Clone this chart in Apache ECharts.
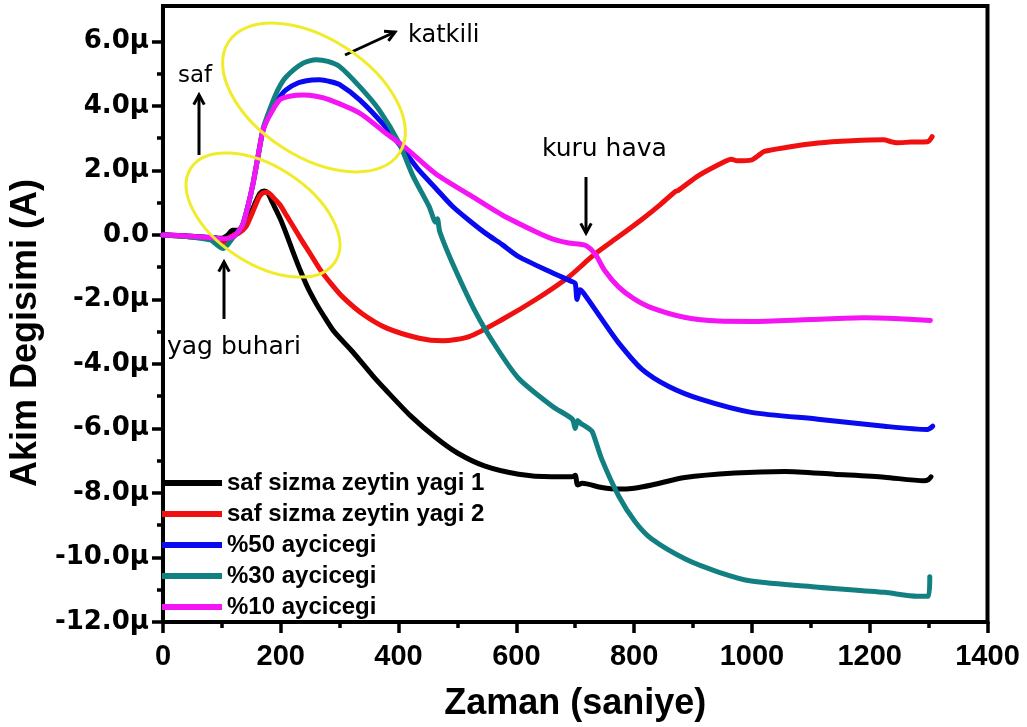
<!DOCTYPE html>
<html>
<head>
<meta charset="utf-8">
<script src="https://cdn.jsdelivr.net/npm/echarts@6/dist/echarts.min.js"></script>
<style>
  html, body { margin: 0; padding: 0; background: #fff; }
  #main { width: 1027px; height: 727px; }
</style>
</head>
<body>
<div id="main"></div>
<script>
// Current change (µA) versus time (s) for the five oil samples
const seriesNames = [
  'saf sizma zeytin yagi 1',
  'saf sizma zeytin yagi 2',
  '%50 aycicegi',
  '%30 aycicegi',
  '%10 aycicegi'
];
const seriesColors = ['#000000', '#f01010', '#0a0af0', '#128080', '#f414f4'];

const saf1 = [[0,0],[40,-0.03],[80,-0.08],[100,-0.1],[110,0.0],[118,0.15],[128,0.15],[135,0.2],[141,0.3],[150,0.7],[158,1.05],[165,1.3],[172,1.36],[178,1.3],[186,1.0],[198,0.55],[207,0.15],[215,-0.24],[224,-0.68],[232,-1.05],[245,-1.6],[260,-2.12],[271,-2.45],[290,-2.98],[322,-3.62],[356,-4.36],[378,-4.8],[420,-5.6],[463,-6.28],[500,-6.76],[547,-7.17],[604,-7.42],[660,-7.5],[694,-7.5],[700,-7.45],[704,-7.75],[712,-7.7],[745,-7.83],[774,-7.88],[800,-7.85],[830,-7.75],[886,-7.52],[971,-7.38],[1056,-7.33],[1140,-7.42],[1225,-7.51],[1292,-7.62],[1300,-7.58],[1304,-7.5]];

const saf2 = [[0,0],[40,-0.05],[80,-0.12],[98,-0.25],[106,-0.2],[115,-0.05],[128,0.05],[141,0.26],[152,0.7],[164,1.2],[172,1.32],[178,1.32],[188,1.15],[198,0.95],[210,0.6],[221,0.27],[235,-0.15],[249,-0.55],[266,-1.05],[285,-1.5],[305,-1.92],[339,-2.45],[379,-2.88],[435,-3.2],[475,-3.28],[520,-3.15],[576,-2.62],[633,-2.0],[689,-1.3],[717,-0.85],[734,-0.58],[774,-0.05],[813,0.48],[845,0.95],[870,1.35],[875,1.38],[910,1.85],[954,2.28],[965,2.35],[975,2.3],[1000,2.33],[1010,2.45],[1021,2.59],[1060,2.72],[1112,2.85],[1170,2.92],[1224,2.95],[1235,2.9],[1245,2.86],[1270,2.88],[1298,2.89],[1306,3.05]];

const aycicegi50 = [[0,0],[40,-0.03],[80,-0.08],[100,-0.12],[115,-0.1],[124,0.02],[135,0.3],[145,0.95],[153,1.6],[162,2.5],[170,3.25],[181,3.75],[195,4.2],[209,4.5],[230,4.72],[250,4.8],[266,4.81],[285,4.75],[300,4.66],[334,4.19],[378,3.35],[412,2.55],[435,2.0],[463,1.45],[491,0.9],[520,0.45],[548,0.05],[576,-0.3],[604,-0.67],[661,-1.17],[694,-1.44],[700,-1.5],[703,-2.0],[708,-1.7],[714,-1.8],[745,-2.61],[773,-3.33],[813,-4.16],[858,-4.69],[914,-5.1],[999,-5.5],[1112,-5.71],[1225,-5.93],[1298,-6.03],[1307,-5.93]];

const aycicegi30 = [[0,0],[40,-0.05],[80,-0.15],[95,-0.35],[102,-0.42],[110,-0.3],[118,-0.1],[124,0.02],[135,0.3],[145,0.95],[153,1.6],[162,2.5],[170,3.3],[181,3.88],[195,4.5],[209,4.9],[238,5.33],[260,5.43],[280,5.38],[300,5.22],[334,4.6],[367,3.88],[401,2.85],[424,1.85],[452,0.88],[463,0.4],[466,0.5],[470,0.1],[491,-0.85],[531,-2.4],[565,-3.45],[604,-4.45],[661,-5.31],[695,-5.71],[700,-6.0],[704,-5.75],[710,-5.85],[717,-5.93],[723,-6.0],[729,-6.1],[745,-6.95],[774,-8.1],[802,-8.9],[830,-9.43],[887,-10.05],[943,-10.45],[999,-10.73],[1112,-10.92],[1225,-11.08],[1281,-11.2],[1300,-11.2],[1302,-10.6]];

const aycicegi10 = [[0,0],[40,-0.03],[80,-0.08],[100,-0.12],[115,-0.08],[124,0.02],[135,0.3],[145,0.95],[153,1.6],[162,2.5],[170,3.25],[181,3.7],[198,4.19],[215,4.3],[238,4.34],[260,4.3],[283,4.19],[334,3.78],[378,3.16],[412,2.7],[463,1.9],[520,1.25],[576,0.62],[633,0.1],[661,-0.12],[689,-0.25],[717,-0.32],[734,-0.6],[750,-1.1],[773,-1.6],[800,-1.98],[830,-2.26],[887,-2.56],[943,-2.67],[999,-2.68],[1100,-2.62],[1191,-2.57],[1250,-2.6],[1303,-2.65]];

const seriesData = [saf1, saf2, aycicegi50, aycicegi30, aycicegi10];

// Axis ticks
const xTicks = [0, 200, 400, 600, 800, 1000, 1200, 1400];
const yMajorTicks = [-12, -10, -8, -6, -4, -2, 0, 2, 4, 6];
const yMinorTicks = [-11, -9, -7, -5, -3, -1, 1, 3, 5];

const BOLD_WIDE = '"DejaVu Sans", sans-serif';
const BOLD_ARIAL = '"Liberation Sans", Arial, sans-serif';
const NOTE_FONT = '"DejaVu Sans", sans-serif';

function yLabel(v) {
  return v === 0 ? '0.0' : v.toFixed(1) + 'μ';
}

// Arrow drawn as a shaft with a chevron head at (x2, y2)
function arrow(x1, y1, x2, y2) {
  const ang = Math.atan2(y2 - y1, x2 - x1);
  const len = 11, spread = 0.5;
  const a1 = ang + Math.PI - spread, a2 = ang + Math.PI + spread;
  return {
    type: 'group', z: 60,
    children: [
      { type: 'line', shape: { x1: x1, y1: y1, x2: x2, y2: y2 },
        style: { stroke: '#000', lineWidth: 3 } },
      { type: 'polyline',
        shape: { points: [[x2 + len * Math.cos(a1), y2 + len * Math.sin(a1)], [x2, y2],
                          [x2 + len * Math.cos(a2), y2 + len * Math.sin(a2)]] },
        style: { stroke: '#000', lineWidth: 3, fill: null, lineJoin: 'miter' } }
    ]
  };
}

function note(text, left, midY, size) {
  return {
    type: 'text', z: 60, x: left, y: midY,
    style: { text: text, font: size + 'px ' + NOTE_FONT, fill: '#000',
             textAlign: 'left', textVerticalAlign: 'middle' }
  };
}

function ring(cx, cy, rx, ry, deg) {
  return {
    type: 'ellipse', z: 50, x: cx, y: cy, rotation: deg * Math.PI / 180,
    shape: { cx: 0, cy: 0, rx: rx, ry: ry },
    style: { fill: null, stroke: '#f0ec2c', lineWidth: 3 }
  };
}

const chart = echarts.init(document.getElementById('main'), null, { renderer: 'canvas' });

const option = {
  animation: false,
  backgroundColor: '#ffffff',
  grid: {
    left: 158, right: 39.5, top: 6, bottom: 103,
    show: true, borderColor: '#000', borderWidth: 4, backgroundColor: 'transparent'
  },
  legend: {
    orient: 'vertical', left: 162, top: 471, padding: 0,
    itemWidth: 60, itemHeight: 6, itemGap: 7, icon: 'rect',
    data: seriesNames,
    textStyle: { fontFamily: BOLD_ARIAL, fontWeight: 'bold', fontSize: 24, lineHeight: 24, color: '#000' }
  },
  xAxis: {
    type: 'value', min: 0, max: 1400, interval: 200,
    axisLine: { show: true, onZero: false, lineStyle: { color: '#000', width: 4 } },
    axisTick: { show: true, length: 11, lineStyle: { color: '#000', width: 3.5 } },
    minorTick: { show: true, splitNumber: 2, length: 6, lineStyle: { color: '#000', width: 3.5 } },
    splitLine: { show: false }, minorSplitLine: { show: false },
    axisLabel: {
      margin: 20, color: '#000', fontFamily: BOLD_ARIAL, fontWeight: 'bold', fontSize: 29,
      formatter: v => (xTicks.indexOf(v) >= 0 ? String(v) : '')
    },
    name: 'Zaman (saniye)', nameLocation: 'middle', nameGap: 64,
    nameTextStyle: { fontFamily: BOLD_ARIAL, fontWeight: 'bold', fontSize: 36, color: '#000' }
  },
  yAxis: [
    {
      type: 'value', min: -12, max: 7.1, interval: 2,
      axisLine: { show: true, onZero: false, lineStyle: { color: '#000', width: 4 } },
      axisTick: { show: true, length: 11, customValues: yMajorTicks, lineStyle: { color: '#000', width: 3.5 } },
      splitLine: { show: false },
      axisLabel: {
        margin: 14, color: '#000', fontFamily: BOLD_WIDE, fontWeight: 'bold', fontSize: 26,
        customValues: yMajorTicks,
        formatter: v => (yMajorTicks.indexOf(v) >= 0 ? yLabel(v) : '')
      },
      name: 'Akim Degisimi (A)', nameLocation: 'middle', nameGap: 116,
      nameTextStyle: { fontFamily: BOLD_ARIAL, fontWeight: 'bold', fontSize: 36, color: '#000',
                       padding: [0, 38, 0, 0] }
    },
    {
      type: 'value', min: -12, max: 7.1, interval: 1, position: 'left', offset: 0,
      axisLine: { show: false },
      axisTick: { show: true, length: 6, customValues: yMinorTicks, lineStyle: { color: '#000', width: 3.5 } },
      axisLabel: { show: false },
      splitLine: { show: false }
    }
  ],
  series: seriesData.map((d, i) => ({
    name: seriesNames[i], type: 'line', data: d, yAxisIndex: 0,
    showSymbol: false, symbol: 'none', smooth: 0.25, silent: true,
    z: 2 + i,
    itemStyle: { color: seriesColors[i] },
    lineStyle: { color: seriesColors[i], width: 5, cap: 'round', join: 'round' }
  })),
  graphic: [
    ring(314, 97.5, 102, 59, -33),
    ring(263, 215, 86, 48.5, -33),
    arrow(199, 155, 199, 95),
    arrow(224, 319, 224, 262),
    arrow(586, 177, 586, 233),
    arrow(345, 55, 395, 32),
    note('saf', 178, 76, 23),
    note('katkili', 408, 36, 24),
    note('kuru hava', 542, 149, 25),
    note('yag buhari', 167, 347, 25)
  ]
};

chart.setOption(option);
</script>
</body>
</html>
